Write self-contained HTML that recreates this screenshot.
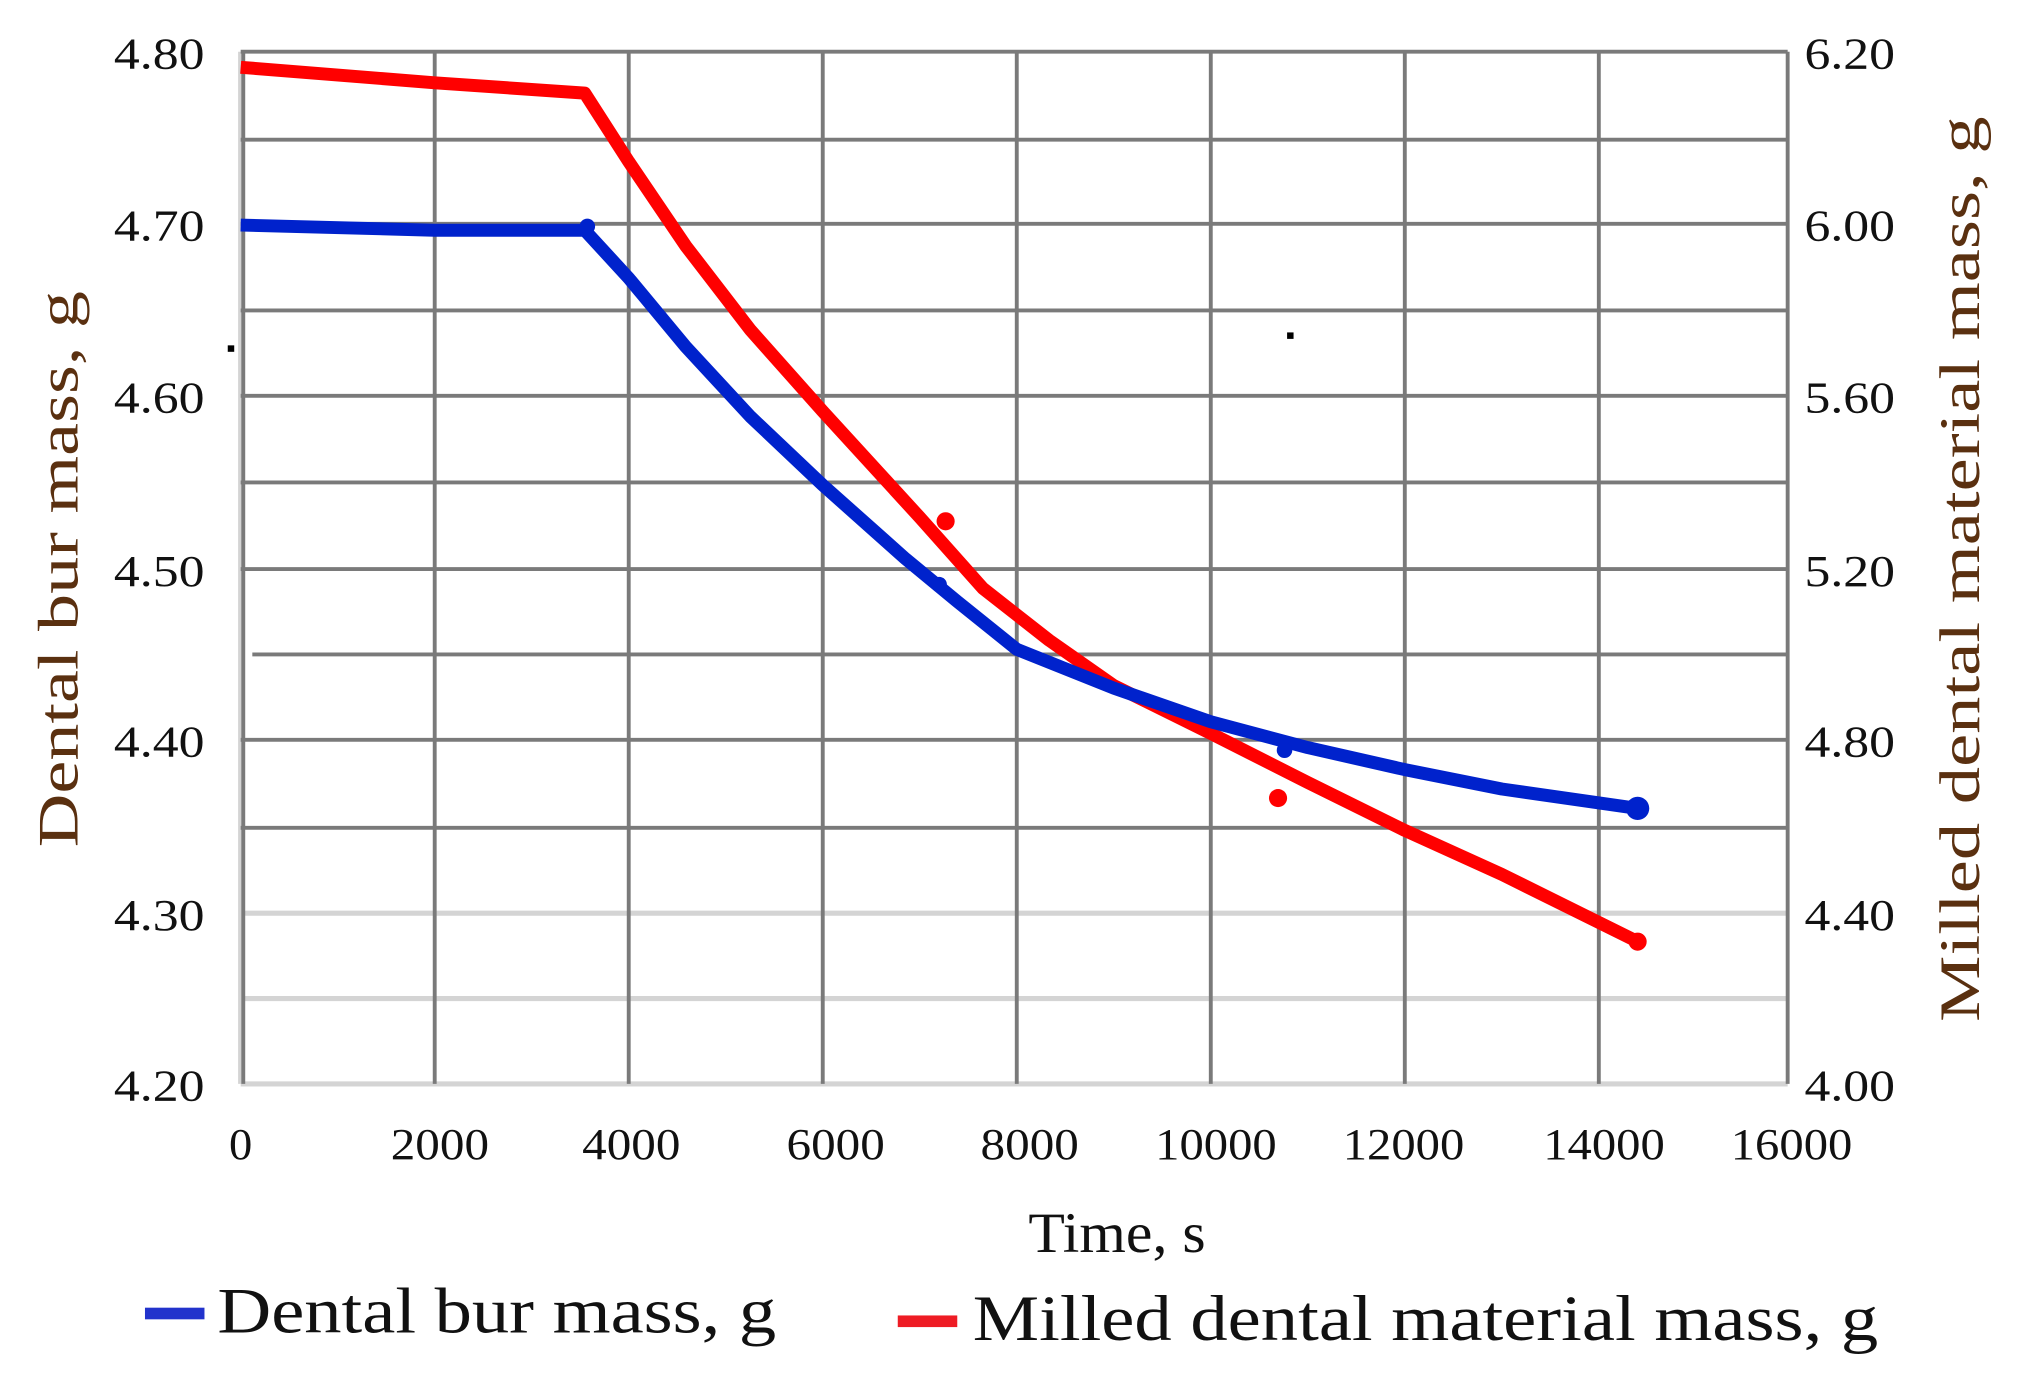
<!DOCTYPE html>
<html><head><meta charset="utf-8"><style>
html,body{margin:0;padding:0;background:#fff;}
svg{display:block;}
text{font-family:"Liberation Serif",serif;}
</style></head><body>
<svg width="2018" height="1384" viewBox="0 0 1560 1070" xmlns="http://www.w3.org/2000/svg">
<rect width="1560" height="1070" fill="#fff"/>
<g stroke="#d4d4d4" stroke-width="4">
<line x1="186" y1="706" x2="1382" y2="706"/>
<line x1="186" y1="772" x2="1382" y2="772"/>
<line x1="186" y1="838" x2="1382" y2="838"/>
<line x1="186" y1="40" x2="186" y2="838"/>
</g>
<g stroke="#7a7a7a" stroke-width="3">
<line x1="186" y1="40" x2="1382" y2="40"/>
<line x1="186" y1="108" x2="1382" y2="108"/>
<line x1="186" y1="173" x2="1382" y2="173"/>
<line x1="186" y1="240" x2="1382" y2="240"/>
<line x1="186" y1="306" x2="1382" y2="306"/>
<line x1="186" y1="373" x2="1382" y2="373"/>
<line x1="186" y1="440" x2="1382" y2="440"/>
<line x1="195" y1="506" x2="1382" y2="506"/>
<line x1="186" y1="572" x2="1382" y2="572"/>
<line x1="186" y1="640" x2="1382" y2="640"/>
<line x1="188" y1="40" x2="188" y2="838"/>
<line x1="336" y1="40" x2="336" y2="838"/>
<line x1="486" y1="40" x2="486" y2="838"/>
<line x1="636" y1="40" x2="636" y2="838"/>
<line x1="786" y1="40" x2="786" y2="838"/>
<line x1="936" y1="40" x2="936" y2="838"/>
<line x1="1086" y1="40" x2="1086" y2="838"/>
<line x1="1236" y1="40" x2="1236" y2="838"/>
<line x1="1382" y1="40" x2="1382" y2="838"/>
</g>
<polyline fill="none" stroke="#ff0000" stroke-width="10" stroke-linejoin="round" points="186,52 336,64 452,72 486,125 530,190 580,255 636,318 711,400 760,455 811,495 861,530 936,567 1011,605 1086,642 1161,676 1266,728"/>
<polyline fill="none" stroke="#0022cc" stroke-width="10" stroke-linejoin="round" points="186,174 336,178 452,178 486,215 530,268 580,322 636,375 700,432 740,465 786,502 861,532 936,558 1011,578 1086,595 1161,610 1266,625"/>
<circle cx="731" cy="403" r="7" fill="#ff0000"/>
<circle cx="988" cy="617" r="7" fill="#ff0000"/>
<circle cx="1266" cy="728" r="7" fill="#ff0000"/>
<circle cx="726" cy="452" r="6" fill="#0022cc"/>
<circle cx="993" cy="580" r="6" fill="#0022cc"/>
<circle cx="1266" cy="625" r="9" fill="#0022cc"/>
<circle cx="454" cy="175" r="6" fill="#0022cc"/>
<rect x="176" y="267" width="5" height="5" fill="#000"/>
<rect x="995" y="257" width="5" height="5" fill="#000"/>
<g font-size="34" fill="#111">
<text x="88" y="53" textLength="70" lengthAdjust="spacingAndGlyphs">4.80</text>
<text x="88" y="186" textLength="70" lengthAdjust="spacingAndGlyphs">4.70</text>
<text x="88" y="319" textLength="70" lengthAdjust="spacingAndGlyphs">4.60</text>
<text x="88" y="453" textLength="70" lengthAdjust="spacingAndGlyphs">4.50</text>
<text x="88" y="585" textLength="70" lengthAdjust="spacingAndGlyphs">4.40</text>
<text x="88" y="719" textLength="70" lengthAdjust="spacingAndGlyphs">4.30</text>
<text x="88" y="851" textLength="70" lengthAdjust="spacingAndGlyphs">4.20</text>
<text x="1395" y="53" textLength="70" lengthAdjust="spacingAndGlyphs">6.20</text>
<text x="1395" y="186" textLength="70" lengthAdjust="spacingAndGlyphs">6.00</text>
<text x="1395" y="319" textLength="70" lengthAdjust="spacingAndGlyphs">5.60</text>
<text x="1395" y="453" textLength="70" lengthAdjust="spacingAndGlyphs">5.20</text>
<text x="1395" y="585" textLength="70" lengthAdjust="spacingAndGlyphs">4.80</text>
<text x="1395" y="719" textLength="70" lengthAdjust="spacingAndGlyphs">4.40</text>
<text x="1395" y="851" textLength="70" lengthAdjust="spacingAndGlyphs">4.00</text>
</g>
<g font-size="34" fill="#111">
<text x="177" y="896" textLength="18" lengthAdjust="spacingAndGlyphs">0</text>
<text x="302" y="896" textLength="76" lengthAdjust="spacingAndGlyphs">2000</text>
<text x="450" y="896" textLength="76" lengthAdjust="spacingAndGlyphs">4000</text>
<text x="608" y="896" textLength="76" lengthAdjust="spacingAndGlyphs">6000</text>
<text x="758" y="896" textLength="76" lengthAdjust="spacingAndGlyphs">8000</text>
<text x="893" y="896" textLength="94" lengthAdjust="spacingAndGlyphs">10000</text>
<text x="1038" y="896" textLength="94" lengthAdjust="spacingAndGlyphs">12000</text>
<text x="1193" y="896" textLength="94" lengthAdjust="spacingAndGlyphs">14000</text>
<text x="1338" y="896" textLength="94" lengthAdjust="spacingAndGlyphs">16000</text>
</g>
<text x="795" y="968" font-size="44" fill="#111" textLength="137" lengthAdjust="spacingAndGlyphs">Time, s</text>
<text transform="translate(60,440) rotate(-90)" x="-215" font-size="44" fill="#5a3010" textLength="430" lengthAdjust="spacingAndGlyphs">Dental bur mass, g</text>
<text transform="translate(1530,440) rotate(-90)" x="-350" font-size="44" fill="#5a3010" textLength="700" lengthAdjust="spacingAndGlyphs">Milled dental material mass, g</text>
<rect x="112" y="1011" width="46" height="9" fill="#2233cc"/>
<text x="168" y="1030" font-size="50" fill="#111" textLength="432" lengthAdjust="spacingAndGlyphs">Dental bur mass, g</text>
<rect x="694" y="1017" width="46" height="9" fill="#ee1c24"/>
<text x="752" y="1036" font-size="50" fill="#111" textLength="700" lengthAdjust="spacingAndGlyphs">Milled dental material mass, g</text>
</svg>
</body></html>
